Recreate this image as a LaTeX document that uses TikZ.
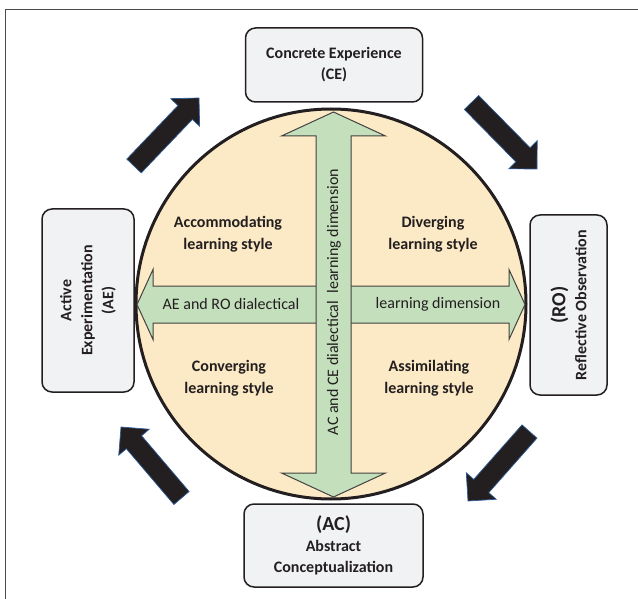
\documentclass[tikz,border=0pt]{standalone}
\usepackage{fontspec}
\setmainfont{Carlito}
\usetikzlibrary{calc}
\definecolor{peach}{HTML}{FCE9C5}
\definecolor{sage}{HTML}{C4DFBC}
\definecolor{boxgray}{HTML}{F1F2F4}
\definecolor{ink}{HTML}{231F20}
\definecolor{edgeblue}{HTML}{2F5D9B}
% fat block arrow from #1 (tail) to #2 (tip)
\newcommand{\cyclearrow}[2]{%
  \coordinate (hb) at ($(#2)!20pt!(#1)$);
  \filldraw[cyc] ($(#1)!10pt!90:(#2)$) -- ($(hb)!10pt!90:(#2)$) -- ($(hb)!20pt!90:(#2)$) -- (#2)
    -- ($(hb)!20pt!-90:(#2)$) -- ($(hb)!10pt!-90:(#2)$) -- ($(#1)!10pt!-90:(#2)$) -- cycle;}

\begin{document}
\begin{tikzpicture}[x=1pt,y=-1pt,
  box/.style={draw=ink,line width=1.5pt,rounded corners=10pt,fill=boxgray,align=center,text=ink,inner sep=0pt,font=\fontsize{16}{21}\selectfont\bfseries},
  lab/.style={align=center,text=ink,font=\fontsize{16}{22}\selectfont\bfseries},
  dim/.style={text=ink,inner sep=0pt,font=\fontsize{16}{20}\selectfont},
  cyc/.style={fill=ink,draw=edgeblue,line width=0.7pt},
  dial/.style={fill=sage,draw=ink!85,line width=1pt,line join=miter}]
\useasboundingbox (0,0) rectangle (638,599);
\draw[gray!60!black,line width=1.5pt] (5.5,599) -- (5.5,9.5) -- (638,9.5);

\node (wheel) [circle,draw=ink,line width=3pt,fill=peach,minimum size=390pt,inner sep=0pt] at (331,304) {};

% the two dialectical dimensions
\draw[dial] (137,304.5) -- (153,269.5) -- (153,286) -- (509,286) -- (509,269.5) -- (525,304.5)
  -- (509,339.5) -- (509,323) -- (153,323) -- (153,339.5) -- cycle;
\draw[dial] (333.5,112) -- (385.5,136) -- (351,136) -- (351,473) -- (385.5,473) -- (333.5,497)
  -- (281.5,473) -- (316,473) -- (316,136) -- (281.5,136) -- cycle;
\node (aero) [dim] at (231,304.5) {AE and RO dialectical};
\node (aerodim) [dim] at (438,304.5) {learning dimension};
\node (acce) [dim,rotate=90] at (334,302) {AC and CE dialectical~ learning dimension};

\node (accom) [lab] at (228,234) {Accommodating\\learning style};
\node (diverg) [lab] at (433,234) {Diverging\\learning style};
\node (converg) [lab] at (229,378) {Converging\\learning style};
\node (assim) [lab] at (429,378) {Assimilating\\learning style};

\node (ce) [box,minimum width=177pt,minimum height=74pt] at (334,65) {Concrete Experience\\(CE)};
\node (ro) [box,rotate=90,minimum width=180pt,minimum height=77pt] at (568.5,305) {{\fontsize{20}{22}\selectfont (RO)}\\Reflective Observation};
\node (ac) [box,minimum width=179pt,minimum height=83pt] at (333.5,545.5) {{\fontsize{20}{22}\selectfont (AC)}\\Abstract\\Conceptualization};
\node (ae) [box,rotate=90,minimum width=183pt,minimum height=92pt] at (88,300.5) {Active\\Experimentation\\(AE)};

% cycle arrows between the four modes
\coordinate (ae-tail) at (134,166);   \coordinate (ce-tip) at (199,98);
\coordinate (ce-tail) at (471.5,102.5); \coordinate (ro-tip) at (537,169);
\coordinate (ro-tail) at (529.5,431.5); \coordinate (ac-tip) at (468,501);
\coordinate (ac-tail) at (181.5,498); \coordinate (ae-tip) at (121,427);
\cyclearrow{ae-tail}{ce-tip}
\cyclearrow{ce-tail}{ro-tip}
\cyclearrow{ro-tail}{ac-tip}
\cyclearrow{ac-tail}{ae-tip}
\end{tikzpicture}
\end{document}
